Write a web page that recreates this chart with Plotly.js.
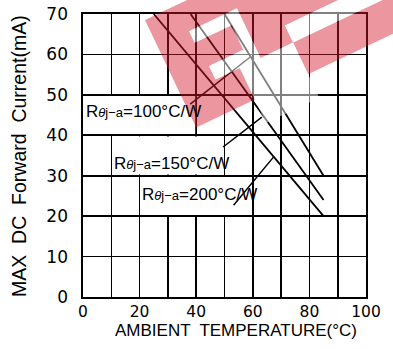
<!DOCTYPE html>
<html>
<head>
<meta charset="utf-8">
<script src="https://cdn.plot.ly/plotly-3.0.1.min.js"></script>
<style>html,body{margin:0;padding:0;background:#fff;}#chart{width:393px;height:349px;}</style>
</head>
<body>
<div id="chart"></div>
<script>
// ---- data ----
const ambientTemp100 = [50, 85];
const current100 = [70, 30];
const ambientTemp150 = [38, 85];
const current150 = [70, 24];
const ambientTemp200 = [25, 85];
const current200 = [70, 20];

const xTickVals = [0, 10, 20, 30, 40, 50, 60, 70, 80, 90, 100];
const xTickText = ['0', '', '20', '', '40', '', '60', '', '80', '', '100'];
const yTickVals = [0, 10, 20, 30, 40, 50, 60, 70];
const yTickText = ['0', '10', '20', '30', '40', '50', '60', '70'];

const labelText100 = 'R<span style="font-size:13px"><i>θ</i>j−a</span>=100°C/W';
const labelText150 = 'R<span style="font-size:13px"><i>θ</i>j−a</span>=150°C/W';
const labelText200 = 'R<span style="font-size:13px"><i>θ</i>j−a</span>=200°C/W';
const xTitle = 'AMBIENT  TEMPERATURE(°C)';
const yTitle = 'MAX  DC  Forward  Current(mA)';

// ---- layout geometry ----
const W = 393, H = 349;
const M = {l: 83, r: 27, t: 14, b: 52};
const PW = W - M.l - M.r, PH = H - M.t - M.b;
function px2paper(p) { return [(p[0] - M.l) / PW, 1 - (p[1] - M.t) / PH]; }
// watermark band local frame (pixels)
const O = [145, 20], U = [0.903, -0.430], V = [0.430, 0.903];
function B(u, v) { return px2paper([O[0] + u * U[0] + v * V[0], O[1] + u * U[1] + v * V[1]]); }
function poly(pts) { return 'M' + pts.map(p => { const q = B(p[0], p[1]); return q[0].toFixed(4) + ',' + q[1].toFixed(4); }).join('L') + 'Z'; }
const bandPoly = [[0, 0], [330, 0], [330, 119], [0, 119]];
const holeA = [[35, 29], [88, 29], [88, 84], [124, 84], [124, 119], [65, 119], [65, 84], [38, 84], [38, 69], [76, 69], [76, 42], [35, 42]];
const holeAwhite = [[35, 29], [88, 29], [88, 84], [124, 84], [124, 145], [65, 145], [65, 84], [38, 84], [38, 69], [76, 69], [76, 42], [35, 42]];
const holeB = [[124, 65], [330, 65], [330, 84], [124, 84]];

const black = '#000';
const lineStyle = {color: black, width: 1.8};

const traces = [
  {x: ambientTemp100, y: current100, mode: 'lines', line: lineStyle, hoverinfo: 'skip', name: '100'},
  {x: ambientTemp150, y: current150, mode: 'lines', line: lineStyle, hoverinfo: 'skip', name: '150'},
  {x: ambientTemp200, y: current200, mode: 'lines', line: lineStyle, hoverinfo: 'skip', name: '200'}
];

const shapes = [
  // white label boxes (hide grid behind labels)
  {type: 'rect', xref: 'x', yref: 'y', x0: 0.35, x1: 39.65, y0: 40.3, y1: 49.7, fillcolor: '#fff', line: {width: 0}, layer: 'between'},
  {type: 'rect', xref: 'x', yref: 'y', x0: 10.35, x1: 49.65, y0: 30.3, y1: 39.7, fillcolor: '#fff', line: {width: 0}, layer: 'between'},
  {type: 'rect', xref: 'x', yref: 'y', x0: 20.35, x1: 59.65, y0: 20.3, y1: 29.7, fillcolor: '#fff', line: {width: 0}, layer: 'between'},
  // leader lines
  {type: 'line', xref: 'x', yref: 'y', x0: 37.9, y0: 47.7, x1: 59.0, y1: 59.3, line: {color: black, width: 1.5}},
  {type: 'line', xref: 'x', yref: 'y', x0: 49.5, y0: 37.1, x1: 63.2, y1: 44.5, line: {color: black, width: 1.5}},
  {type: 'line', xref: 'x', yref: 'y', x0: 53.2, y0: 22.7, x1: 67.3, y1: 34.6, line: {color: black, width: 1.5}},
  // watermark
  {type: 'path', xref: 'paper', yref: 'paper', path: poly(bandPoly) + ' ' + poly(holeA) + ' ' + poly(holeB), fillrule: 'evenodd', fillcolor: 'rgba(212,25,45,0.45)', line: {width: 0}, layer: 'above'},
  {type: 'path', xref: 'paper', yref: 'paper', path: poly(holeAwhite) + ' ' + poly(holeB), fillcolor: 'rgba(255,255,255,0.5)', line: {width: 0}, layer: 'above'}
];

const labelFont = {family: 'Liberation Sans, Arial, sans-serif', size: 17, color: black};
const annotations = [
  {xref: 'x', yref: 'y', x: 0.3, y: 46, xanchor: 'left', yanchor: 'middle', text: labelText100, showarrow: false, font: labelFont},
  {xref: 'x', yref: 'y', x: 10.3, y: 33, xanchor: 'left', yanchor: 'middle', text: labelText150, showarrow: false, font: labelFont},
  {xref: 'x', yref: 'y', x: 20.3, y: 25.4, xanchor: 'left', yanchor: 'middle', text: labelText200, showarrow: false, font: labelFont},
  {xref: 'paper', yref: 'paper', x: (236 - M.l) / PW, y: 1 - (330 - M.t) / PH, xanchor: 'center', yanchor: 'middle', text: xTitle, showarrow: false,
   font: {family: 'Liberation Sans, Arial, sans-serif', size: 17, color: black}},
  {xref: 'paper', yref: 'paper', x: (19 - M.l) / PW, y: 1 - (156 - M.t) / PH, xanchor: 'center', yanchor: 'middle', textangle: -90, text: yTitle, showarrow: false,
   font: {family: 'Liberation Sans, Arial, sans-serif', size: 19.5, color: black}}
];

const axisCommon = {
  showgrid: true, gridcolor: black, gridwidth: 1.6,
  showline: true, linecolor: black, linewidth: 1.6, mirror: true,
  zeroline: false, ticks: '', fixedrange: true
};

const layout = {
  width: W, height: H,
  margin: M,
  paper_bgcolor: '#fff', plot_bgcolor: '#fff',
  showlegend: false,
  xaxis: Object.assign({}, axisCommon, {range: [0, 100], tickmode: 'array', tickvals: xTickVals, ticktext: xTickText, ticklabelstandoff: 0,
    tickfont: {family: 'DejaVu Sans, sans-serif', size: 15.5, color: black}}),
  yaxis: Object.assign({}, axisCommon, {range: [0, 70], tickmode: 'array', tickvals: yTickVals, ticktext: yTickText, ticklabelstandoff: 10,
    tickfont: {family: 'DejaVu Sans, sans-serif', size: 17, color: black}}),
  shapes: shapes,
  annotations: annotations
};

Plotly.newPlot('chart', traces, layout, {staticPlot: true, displayModeBar: false});
</script>
</body>
</html>
